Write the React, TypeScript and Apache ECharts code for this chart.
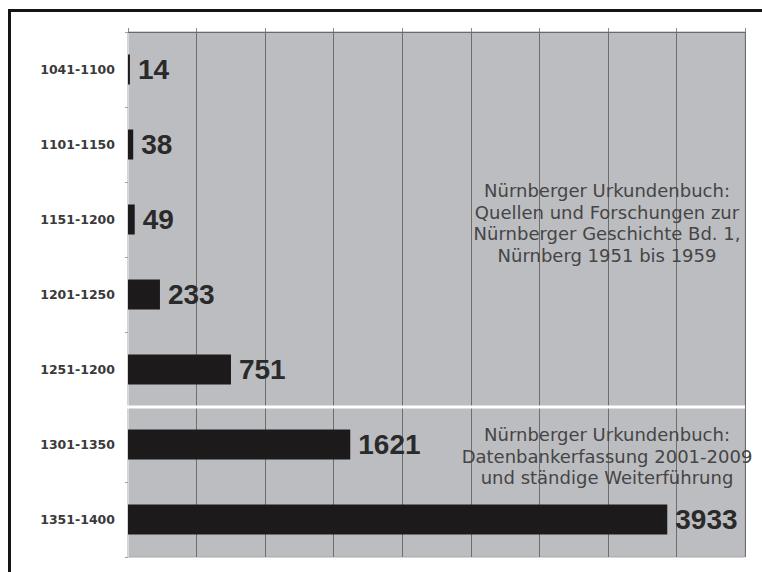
import React, { useEffect, useRef } from "react";
import * as echarts from "echarts";

const categories = ["1041-1100", "1101-1150", "1151-1200", "1201-1250", "1251-1200", "1301-1350", "1351-1400"];
const values = [14, 38, 49, 233, 751, 1621, 3933];
const axisMin = 0;
const axisMax = 4500;
const axisInterval = 500;
const noteTop = "Nürnberger Urkundenbuch:\nQuellen und Forschungen zur\nNürnberger Geschichte Bd. 1,\nNürnberg 1951 bis 1959";
const noteBottom = "Nürnberger Urkundenbuch:\nDatenbankerfassung 2001-2009\nund ständige Weiterführung";
const separatorAfterIndex = 4;

export default function App() {
  const ref = useRef<HTMLDivElement>(null);
  useEffect(() => {
    if (!ref.current) return;
    const chart = echarts.init(ref.current, null, { renderer: "svg" });
    const noteStyle = {
      fontFamily: "DejaVu Sans",
      fontSize: 18,
      lineHeight: 21.5,
      fill: "#454545",
      textAlign: "center",
      textVerticalAlign: "middle",
    };
    chart.setOption({
      animation: false,
      backgroundColor: "#ffffff",
      grid: {
        left: 128,
        right: 17,
        top: 32,
        bottom: 15,
        show: true,
        backgroundColor: "#bcbdc1",
        borderColor: "#a8a8a8",
        borderWidth: 1,
        containLabel: false,
      },
      xAxis: {
        type: "value",
        position: "top",
        min: axisMin,
        max: axisMax,
        interval: axisInterval,
        axisLabel: { show: false },
        axisLine: { show: true, lineStyle: { color: "#6a6a6a", width: 1 } },
        axisTick: { show: true, length: 4, lineStyle: { color: "#8a8a8a" } },
        splitLine: { show: true, lineStyle: { color: "#6e6e6e", width: 1 } },
      },
      yAxis: {
        type: "category",
        inverse: true,
        data: categories,
        axisLine: { show: true, lineStyle: { color: "#d8d8d8" } },
        axisTick: { show: true, length: 3, lineStyle: { color: "#a0a0a0" } },
        axisLabel: {
          margin: 13,
          fontFamily: "DejaVu Sans",
          fontWeight: "bold",
          fontSize: 12.5,
          color: "#3a3a3a",
        },
        splitLine: { show: false },
      },
      series: [
        {
          type: "bar",
          data: values,
          barWidth: 30,
          itemStyle: { color: "#1c1a1b" },
          label: {
            show: true,
            position: "right",
            distance: 8,
            fontFamily: "Liberation Sans",
            fontWeight: "bold",
            fontSize: 28,
            color: "#2a2a2a",
          },
        },
      ],
    });

    const yA = chart.convertToPixel({ yAxisIndex: 0 }, categories[separatorAfterIndex]) as number;
    const yB = chart.convertToPixel({ yAxisIndex: 0 }, categories[separatorAfterIndex + 1]) as number;
    const xL = chart.convertToPixel({ xAxisIndex: 0 }, axisMin) as number;
    const xR = chart.convertToPixel({ xAxisIndex: 0 }, axisMax) as number;
    const ySep = (yA + yB) / 2;

    chart.setOption({
      graphic: [
        { type: "rect", shape: { x: 8, y: 9, width: 754, height: 3 }, style: { fill: "#151515" }, z: 100 },
        { type: "rect", shape: { x: 8, y: 9, width: 3, height: 563 }, style: { fill: "#151515" }, z: 100 },
        {
          type: "line",
          shape: { x1: xL - 3, y1: ySep, x2: xR, y2: ySep },
          style: { stroke: "#ffffff", lineWidth: 3 },
          z: 100,
        },
        { type: "text", x: 607, y: 223, style: { ...noteStyle, text: noteTop }, z: 101 },
        { type: "text", x: 607, y: 456, style: { ...noteStyle, text: noteBottom }, z: 101 },
      ],
    });

    return () => chart.dispose();
  }, []);
  return (
    <div
      ref={ref}
      style={{ position: "absolute", left: 0, top: 0, width: 762, height: 572 }}
    />
  );
}
